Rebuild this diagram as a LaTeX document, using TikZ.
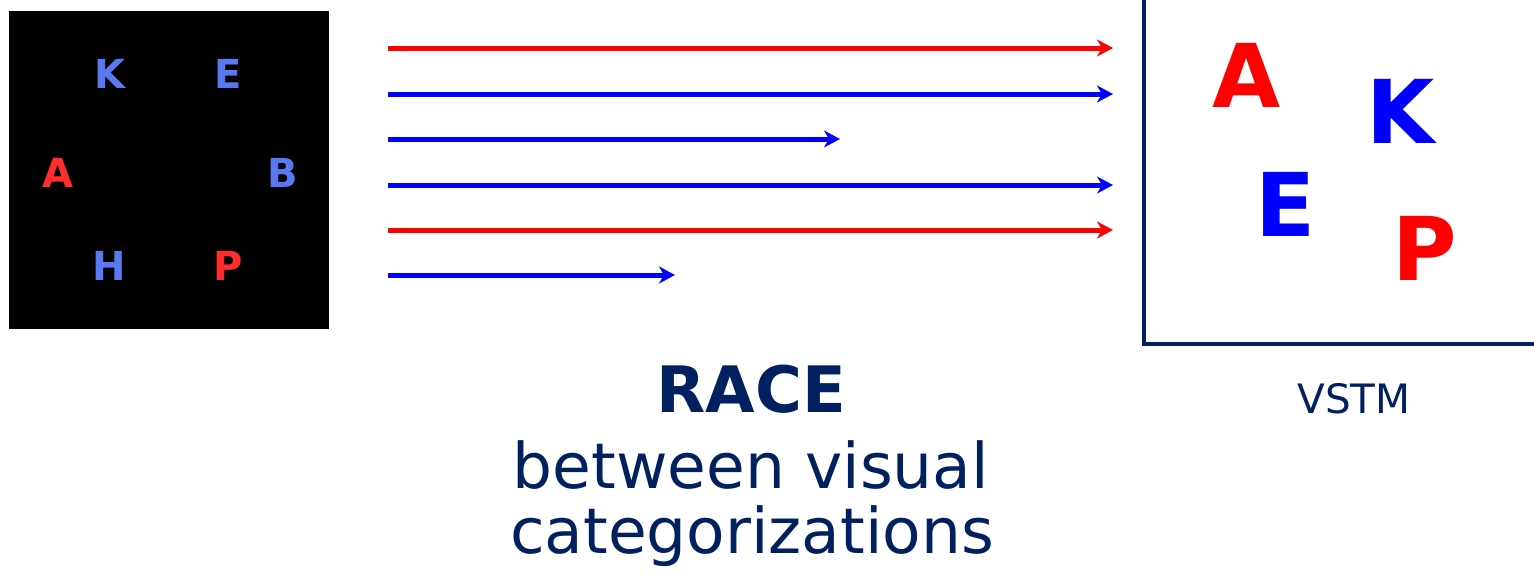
\documentclass[tikz,border=0pt]{standalone}
\usepackage{fontspec}
\setmainfont{DejaVu Sans}
\usetikzlibrary{arrows.meta}
\definecolor{navy}{RGB}{0,32,96}
\definecolor{lightblue}{RGB}{90,120,240}
\definecolor{lightred}{RGB}{255,45,45}
\tikzset{
  raceline/.style={line width=5pt, -{Stealth[length=16pt,width=17pt,inset=5pt]}},
  small/.style={anchor=base, inner sep=0pt, font=\fontsize{40}{40}\selectfont\bfseries},
  big/.style={anchor=base, inner sep=0pt, font=\fontsize{88}{88}\selectfont\bfseries},
  caption/.style={anchor=base, inner sep=0pt, text=navy, font=\fontsize{63}{63}\selectfont}
}
\begin{document}
\begin{tikzpicture}[x=1pt,y=-1pt]
\useasboundingbox (0,0) rectangle (1534,573);

% stimulus display
\fill[black] (9,11) rectangle (329,329);
\node[small, text=lightblue] (dk) at (110,88) {K};
\node[small, text=lightblue] (de) at (228,88) {E};
\node[small, text=lightred]  (da) at (58,187)  {A};
\node[small, text=lightblue] (db) at (283,187) {B};
\node[small, text=lightblue] (dh) at (109,280) {H};
\node[small, text=lightred]  (dp) at (228,280) {P};

% race lines
\foreach \y/\x/\c [count=\i] in {48/1113/red, 94/1113/blue, 139/840/blue, 185/1113/blue, 230/1113/red, 275/675/blue}{
  \coordinate (s\i) at (388,\y);
  \coordinate (e\i) at (\x,\y);
  \draw[raceline, draw=\c, \c] (s\i) -- (e\i);
}

% VSTM frame
\coordinate (vt) at (1144,-5);
\coordinate (vc) at (1144,344);
\coordinate (vr) at (1540,344);
\draw[navy, line width=3.5pt] (vt) -- (vc) -- (vr);
\node[big, text=red]  (ma) at (1247,107) {A};
\node[big, text=blue] (mk) at (1401,143) {K};
\node[big, text=blue] (me) at (1286,236) {E};
\node[big, text=red]  (mp) at (1425,280) {P};
\node[anchor=base, inner sep=0pt, text=navy, font=\fontsize{40.5}{40.5}\selectfont] (vstm) at (1354,413) {VSTM};

% caption
\node[caption, font=\fontsize{64}{64}\selectfont\bfseries] (race) at (751,412) {RACE};
\node[caption] (between) at (751,488) {between visual};
\node[caption] (cats) at (752,553) {categorizations};
\end{tikzpicture}
\end{document}
